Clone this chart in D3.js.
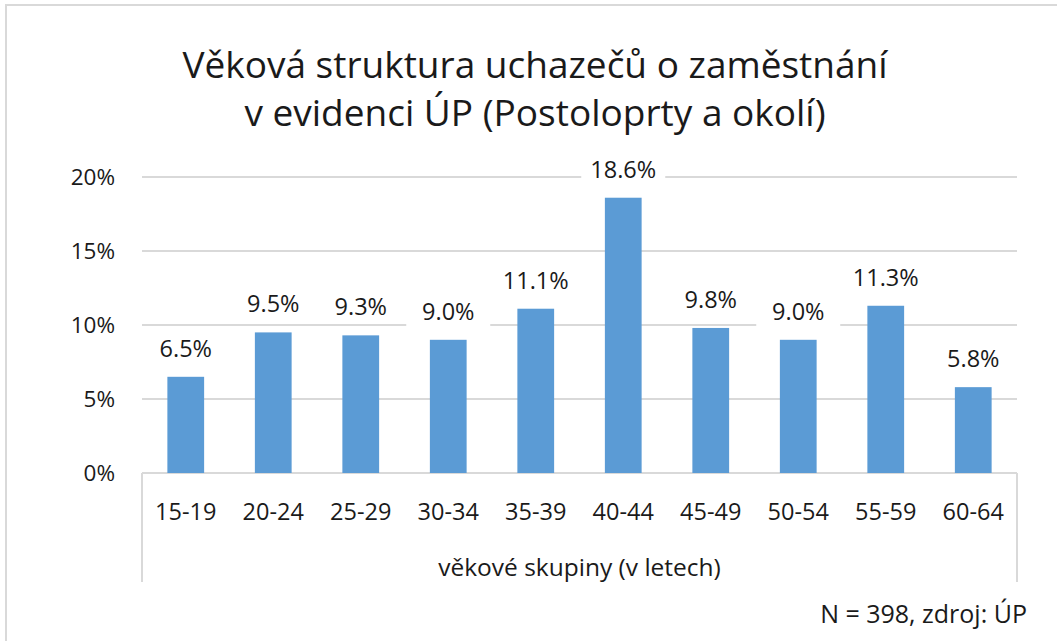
<!DOCTYPE html>
<html>
<head>
<meta charset="utf-8">
<script src="https://cdn.jsdelivr.net/npm/d3@7"></script>
<style>
  body { margin: 0; background: #fff; }
  svg { display: block; font-family: "Open Sans", sans-serif; }
</style>
</head>
<body>
<svg id="drawing_region"></svg>
<script>
// data
const categories = ['15-19','20-24','25-29','30-34','35-39','40-44','45-49','50-54','55-59','60-64'];
const values = [6.5, 9.5, 9.3, 9.0, 11.1, 18.6, 9.8, 9.0, 11.3, 5.8];
const yTicks = [0, 5, 10, 15, 20];
const titleLines = ['Věková struktura uchazečů o zaměstnání', 'v evidenci ÚP (Postoloprty a okolí)'];
const xTitle = 'věkové skupiny (v letech)';
const note = 'N = 398, zdroj: ÚP';

const config = {
    width: 1057,
    height: 641,
    margin: {top: 177, right: 40, bottom: 168, left: 142}
};

const svg = d3.select('#drawing_region')
    .attr('width', config.width)
    .attr('height', config.height);

// chart border
svg.append('rect')
    .attr('x', 6).attr('y', 5)
    .attr('width', 1100).attr('height', 700)
    .attr('fill', 'none')
    .attr('stroke', '#d9d9d9')
    .attr('stroke-width', 2);

const innerW = config.width - config.margin.left - config.margin.right;
const innerH = config.height - config.margin.top - config.margin.bottom;

const g = svg.append('g')
    .attr('transform', `translate(${config.margin.left}, ${config.margin.top})`);

const x = d3.scaleBand()
    .domain(categories)
    .range([0, innerW])
    .paddingInner(0.58)
    .paddingOuter(0.29);

const y = d3.scaleLinear()
    .domain([0, 20])
    .range([innerH, 0]);

const txt = '#1a1a1a';
const small = 23.5;

// gridlines
g.selectAll('.grid')
    .data(yTicks)
    .enter()
    .append('line')
    .attr('x1', 0).attr('x2', innerW)
    .attr('y1', d => y(d)).attr('y2', d => y(d))
    .attr('stroke', '#d9d9d9')
    .attr('stroke-width', 2);

// y labels
g.selectAll('.ylab')
    .data(yTicks)
    .enter()
    .append('text')
    .attr('x', -27)
    .attr('y', d => y(d))
    .attr('dy', '0.36em')
    .attr('text-anchor', 'end')
    .attr('font-size', 22.5)
    .attr('fill', txt)
    .text(d => d + '%');

// category axis frame
[0, innerW].forEach(px => {
    g.append('line')
        .attr('x1', px).attr('x2', px)
        .attr('y1', innerH).attr('y2', innerH + 109)
        .attr('stroke', '#d9d9d9')
        .attr('stroke-width', 2);
});

// bars
g.selectAll('.bar')
    .data(values)
    .enter()
    .append('rect')
    .attr('x', (d, i) => x(categories[i]))
    .attr('y', d => y(d))
    .attr('width', x.bandwidth())
    .attr('height', d => innerH - y(d))
    .attr('fill', '#5b9bd5');

// value labels with white background
const labels = g.selectAll('.vlab')
    .data(values)
    .enter()
    .append('g')
    .attr('transform', (d, i) => `translate(${x(categories[i]) + x.bandwidth() / 2}, ${y(d) - 20})`);

labels.append('rect')
    .attr('x', -42).attr('y', -23)
    .attr('width', 84).attr('height', 30)
    .attr('fill', '#fff');

labels.append('text')
    .attr('text-anchor', 'middle')
    .attr('font-size', small)
    .attr('fill', txt)
    .text(d => d.toFixed(1) + '%');

// category labels
g.selectAll('.xlab')
    .data(categories)
    .enter()
    .append('text')
    .attr('x', d => x(d) + x.bandwidth() / 2)
    .attr('y', innerH + 47)
    .attr('text-anchor', 'middle')
    .attr('font-size', small)
    .attr('fill', txt)
    .text(d => d);

// axis title
g.append('text')
    .attr('x', innerW / 2)
    .attr('y', innerH + 103)
    .attr('text-anchor', 'middle')
    .attr('font-size', 24.5)
    .attr('fill', txt)
    .text(xTitle);

// title
svg.selectAll('.title')
    .data(titleLines)
    .enter()
    .append('text')
    .attr('x', 535)
    .attr('y', (d, i) => 78 + i * 48)
    .attr('text-anchor', 'middle')
    .attr('font-size', 37)
    .attr('fill', txt)
    .text(d => d);

// note
svg.append('text')
    .attr('x', 1027)
    .attr('y', 623)
    .attr('text-anchor', 'end')
    .attr('font-size', 25)
    .attr('fill', txt)
    .text(note);
</script>
</body>
</html>
